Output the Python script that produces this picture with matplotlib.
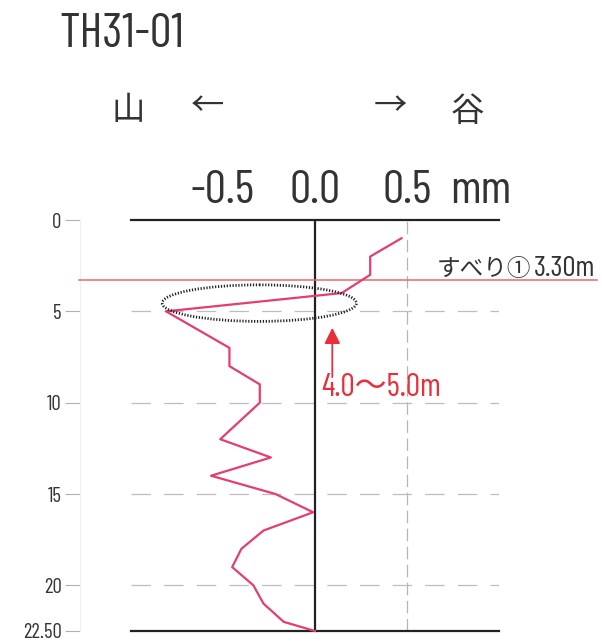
import matplotlib
matplotlib.use("Agg")
import matplotlib.pyplot as plt
from matplotlib.patches import Ellipse

plt.rcParams["lines.scale_dashes"] = False
plt.rcParams["axes.unicode_minus"] = False

NARROW = ["Barlow Condensed", "Noto Sans CJK JP", "DejaVu Sans"]
CJK = ["Noto Sans CJK JP", "DejaVu Sans"]

# displacement profile (mm) vs depth (m)
depth = [1, 2, 3, 4, 5, 7, 8, 9, 10, 12, 13, 14, 15, 16, 17, 18, 19, 20, 21, 22, 22.5]
disp = [0.47, 0.30, 0.30, 0.145, -0.81, -0.465, -0.465, -0.30, -0.30, -0.515,
        -0.24, -0.565, -0.215, -0.01, -0.28, -0.40, -0.45, -0.335, -0.28, -0.17, 0.0]

x_ticks = [-0.5, 0.0, 0.5, 0.9]
x_tick_labels = ["-0.5", "0.0", "0.5", "mm"]
y_ticks = [0, 5, 10, 15, 20, 22.5]
y_tick_labels = ["0", "5", "10", "15", "20", "22.50"]
grid_depths = [5, 10, 15, 20]

slip_depth = 3.30
slip_name = "すべり①"
slip_value = "3.30m"
zone_label = "4.0～5.0m"
zone_top, zone_bottom = 3.55, 5.55
zone_left, zone_right = -0.83, 0.225

CURVE = "#e33d72"
SLIP = "#e26a6a"
RED = "#e8303a"
TEXT = "#333333"

fig = plt.figure(figsize=(6.02, 6.42), dpi=100)
ax = fig.add_axes([131 / 602, 1 - 631 / 642, 368 / 602, 411 / 642])
ax.set_xlim(-1.0, 1.0)
ax.set_ylim(22.5, 0)

# frame: top/bottom black, left as faint outward rule with ticks
ax.spines["right"].set_visible(False)
for side in ["top", "bottom"]:
    ax.spines[side].set_color("#222222")
    ax.spines[side].set_linewidth(1.6)
ax.spines["left"].set_position(("outward", 36.5))
ax.spines["left"].set_color("#f0f0f0")
ax.spines["left"].set_linewidth(0.8)

ax.set_yticks(y_ticks)
ax.set_yticklabels(y_tick_labels, family=NARROW, fontsize=15, color=TEXT)
ax.tick_params(axis="y", length=10.5, width=0.8, color="#b0b0b0", pad=3)

ax.xaxis.tick_top()
ax.set_xticks(x_ticks)
ax.set_xticklabels(x_tick_labels, family=NARROW, fontsize=34, color=TEXT,
                   va="baseline")
ax.tick_params(axis="x", length=0, pad=12)

# reference lines
ax.axvline(0.0, color="#222222", lw=1.6, zorder=2)
ax.axvline(0.5, color="#b5b5b5", lw=0.9, linestyle=(0, (9, 4)), zorder=1)
for d in grid_depths:
    ax.axhline(d, color="#bdbdbd", lw=0.9, linestyle=(0, (14, 9.5)), zorder=1)

# slip surface
ax.plot([-1.283, 1.533], [slip_depth, slip_depth], color=SLIP, lw=1.1,
        clip_on=False, zorder=3)
ax.text(0.663, 3.08, slip_name, family=CJK, fontsize=17,
        color=TEXT, ha="left", va="baseline")
ax.text(1.525, 3.08, slip_value, family=NARROW, fontsize=21,
        color=TEXT, ha="right", va="baseline")

# profile
ax.plot(disp, depth, color=CURVE, lw=1.6, zorder=4, clip_on=False)

# highlighted zone
ax.add_patch(Ellipse(((zone_left + zone_right) / 2, (zone_top + zone_bottom) / 2),
                     zone_right - zone_left, zone_bottom - zone_top,
                     fill=False, ec="#222222", lw=2.0, linestyle=(0, (0.9, 1.2)),
                     zorder=5))
ax.annotate("", xy=(0.094, 5.9), xytext=(0.094, 8.6),
            arrowprops=dict(arrowstyle="-|>", color=RED, lw=1.3,
                            mutation_scale=24, shrinkA=0, shrinkB=0))
ax.text(0.036, 9.65, zone_label, family=NARROW, fontsize=23, color=RED,
        ha="left", va="baseline")

# header
fig.text(59 / 602, 1 - 47 / 642, "TH31-01", family=NARROW, fontsize=35,
         color=TEXT, ha="left", va="baseline")
fig.text(128 / 602, 1 - 110 / 642, "山", family=CJK, fontsize=24,
         color=TEXT, ha="center", va="center")
fig.text(208 / 602, 1 - 107 / 642, "←", family=CJK, fontsize=24,
         color=TEXT, ha="center", va="center")
fig.text(390 / 602, 1 - 107 / 642, "→", family=CJK, fontsize=24,
         color=TEXT, ha="center", va="center")
fig.text(467 / 602, 1 - 111 / 642, "谷", family=CJK, fontsize=24,
         color=TEXT, ha="center", va="center")

fig.savefig("out.png", dpi=100)
